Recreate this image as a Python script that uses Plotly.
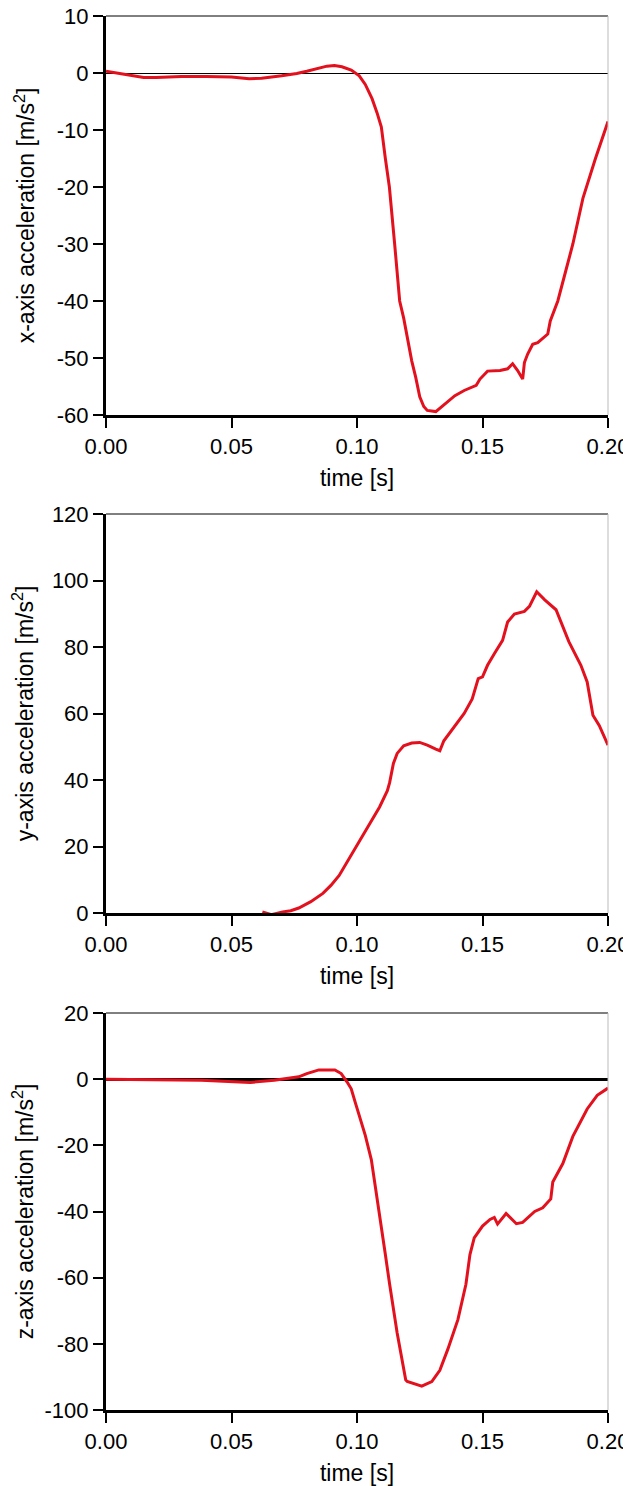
import plotly.graph_objects as go

# ---- data ----
t_x = [0.000, 0.008, 0.015, 0.020, 0.030, 0.040, 0.050, 0.057, 0.062, 0.070, 0.076, 0.080,
       0.085, 0.088, 0.091, 0.094, 0.0977, 0.1009, 0.1033, 0.1060, 0.1080, 0.1097, 0.1113,
       0.1129, 0.1150, 0.1170, 0.1186, 0.1200, 0.1218, 0.1234, 0.1250, 0.1266, 0.1280,
       0.1314, 0.1340, 0.1360, 0.1390, 0.1427, 0.1475, 0.1490, 0.1520, 0.1570, 0.1600,
       0.1620, 0.1640, 0.1660, 0.1667, 0.1680, 0.1700, 0.1720, 0.1760, 0.1770, 0.1800,
       0.1830, 0.1860, 0.1900, 0.1950, 0.2000]
a_x = [0.3, -0.3, -0.8, -0.8, -0.6, -0.6, -0.7, -1.0, -0.9, -0.5, -0.1, 0.3,
       0.9, 1.2, 1.3, 1.1, 0.5, -0.5, -2.0, -4.5, -7.0, -9.5, -15.0,
       -20.0, -30.0, -40.0, -43.0, -46.4, -50.5, -53.4, -56.8, -58.5, -59.2,
       -59.4, -58.4, -57.7, -56.6, -55.7, -54.8, -53.7, -52.3, -52.2, -51.9,
       -51.0, -52.2, -53.7, -50.8, -49.3, -47.6, -47.3, -45.8, -43.5, -40.0,
       -35.0, -30.0, -22.0, -15.0, -8.5]

t_y = [0.0623, 0.0659, 0.0704, 0.0736, 0.0768, 0.0816, 0.0864, 0.0896, 0.0929, 0.0960,
       0.0993, 0.1025, 0.1057, 0.1090, 0.1121, 0.1130, 0.1145, 0.1160, 0.1186, 0.1218,
       0.1250, 0.1280, 0.1314, 0.1330, 0.1346, 0.1362, 0.1390, 0.1427, 0.1459, 0.1483,
       0.1500, 0.1520, 0.1547, 0.1580, 0.1600, 0.1627, 0.1667, 0.1687, 0.1716, 0.1748,
       0.1793, 0.1844, 0.1892, 0.1917, 0.1940, 0.1965, 0.2000]
a_y = [0.3, -0.5, 0.3, 0.7, 1.5, 3.4, 5.9, 8.3, 11.3, 15.2,
       19.6, 23.5, 27.5, 31.9, 36.8, 39.2, 45.0, 48.0, 50.3, 51.1,
       51.3, 50.5, 49.3, 48.8, 51.8, 53.4, 56.4, 60.0, 64.4, 70.5,
       71.0, 74.5, 78.0, 82.0, 87.5, 89.9, 90.7, 92.2, 96.6, 94.2,
       91.2, 81.6, 74.5, 69.5, 59.5, 56.4, 50.5]

t_z = [0.000, 0.020, 0.038, 0.051, 0.0575, 0.067, 0.0768, 0.080, 0.0848, 0.0912,
       0.0937, 0.0960, 0.0977, 0.0993, 0.1009, 0.1033, 0.1057, 0.1080, 0.1092, 0.1113,
       0.1130, 0.1160, 0.1194, 0.1200, 0.1258, 0.1298, 0.1330, 0.1362, 0.1402, 0.1434,
       0.1450, 0.1467, 0.1500, 0.1530, 0.1547, 0.1560, 0.1594, 0.1635, 0.1660, 0.1708,
       0.1740, 0.1772, 0.1780, 0.1820, 0.1860, 0.1917, 0.1957, 0.2000]
a_z = [0.0, -0.2, -0.3, -0.8, -1.0, -0.3, 0.7, 1.7, 2.8, 2.8,
       1.7, -0.8, -2.9, -7.0, -11.0, -17.0, -24.3, -35.5, -42.7, -53.0,
       -62.0, -76.7, -90.9, -91.4, -92.8, -91.4, -88.0, -81.6, -72.7, -62.0,
       -53.0, -48.0, -44.4, -42.4, -41.8, -43.8, -40.6, -43.7, -43.3, -40.0,
       -38.9, -36.2, -31.1, -25.5, -17.3, -9.0, -4.9, -2.7]

x_ticks = [0.00, 0.05, 0.10, 0.15, 0.20]
x_ticklabels = ["0.00", "0.05", "0.10", "0.15", "0.20"]
y_ticks_1 = [10, 0, -10, -20, -30, -40, -50, -60]
y_ticks_2 = [120, 100, 80, 60, 40, 20, 0]
y_ticks_3 = [20, 0, -20, -40, -60, -80, -100]
y_titles = ["x-axis acceleration [m/s<sup>2</sup>]",
            "y-axis acceleration [m/s<sup>2</sup>]",
            "z-axis acceleration [m/s<sup>2</sup>]"]
x_title = "time [s]"

# ---- figure (page body adds an 8px offset) ----
W, H = 623, 1478
L, R, T, B = 98, 23, 8, 76
plot_h = H - T - B
px_bounds = [(8, 407), (506, 905), (1005, 1402)]
domains = [[(H - B - b) / plot_h, (H - B - t) / plot_h] for (t, b) in px_bounds]
domains = [[max(0.0, d0), min(1.0, d1)] for d0, d1 in domains]

RED = "#E3101E"
FONT = dict(family="Liberation Sans, Arial, sans-serif", size=22, color="black")
TFONT = dict(family="Liberation Sans, Arial, sans-serif", size=23, color="black")

fig = go.Figure()
series = [(t_x, a_x), (t_y, a_y), (t_z, a_z)]
y_tick_sets = [y_ticks_1, y_ticks_2, y_ticks_3]
for i, (tt, aa) in enumerate(series):
    sfx = "" if i == 0 else str(i + 1)
    fig.add_trace(go.Scatter(x=tt, y=aa, mode="lines",
                             line=dict(color=RED, width=3),
                             xaxis="x" + sfx, yaxis="y" + sfx, showlegend=False))

zl_width = [1, 1, 3]
for i in range(3):
    sfx = "" if i == 0 else str(i + 1)
    yt = y_tick_sets[i]
    fig.layout["xaxis" + sfx] = dict(
        domain=[0, 1], anchor="y" + sfx, range=[0, 0.2],
        tickvals=x_ticks, ticktext=x_ticklabels, ticklabeloverflow="allow",
        showline=True, linewidth=3, linecolor="black",
        ticks="outside", ticklen=10, tickwidth=2, tickcolor="black",
        showgrid=False, zeroline=False, automargin=False,
        tickfont=FONT, title=dict(text=x_title, font=TFONT, standoff=12),
    )
    fig.layout["yaxis" + sfx] = dict(
        domain=domains[i], anchor="x" + sfx, range=[min(yt), max(yt)],
        tickvals=yt, ticktext=[str(v) for v in yt], ticklabeloverflow="allow",
        showline=True, linewidth=3, linecolor="black",
        ticks="outside", ticklen=10, tickwidth=2, tickcolor="black",
        showgrid=False, zeroline=(i != 1), zerolinecolor="black",
        zerolinewidth=zl_width[i], automargin=False,
        tickfont=FONT, title=dict(text=y_titles[i], font=TFONT, standoff=16),
    )
    fig.add_shape(type="line", xref="x" + sfx + " domain", yref="y" + sfx + " domain",
                  x0=0, x1=1, y0=1, y1=1, line=dict(color="black", width=1))
    fig.add_shape(type="line", xref="x" + sfx + " domain", yref="y" + sfx + " domain",
                  x0=1, x1=1, y0=0, y1=1, line=dict(color="#bbbbbb", width=1))

fig.update_layout(width=W, height=H, margin=dict(l=L, r=R, t=T, b=B, autoexpand=False),
                  plot_bgcolor="white", paper_bgcolor="white", font=FONT)
fig.write_html("out.html")
